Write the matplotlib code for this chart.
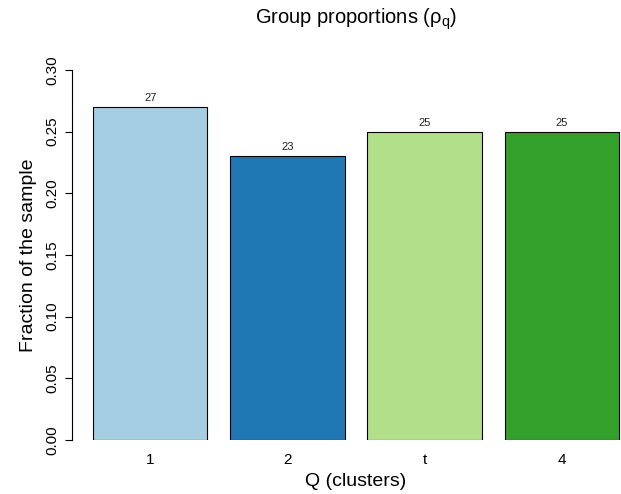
import matplotlib
matplotlib.use("Agg")
import matplotlib.pyplot as plt

plt.rcParams['font.family'] = ['Liberation Sans', 'DejaVu Sans']
plt.rcParams['mathtext.fontset'] = 'custom'
plt.rcParams['mathtext.rm'] = 'Liberation Sans'

categories = ["1", "2", "t", "4"]
proportions = [0.27, 0.23, 0.25, 0.25]
counts = [27, 23, 25, 25]
colors = ["#A6CEE3", "#1F78B4", "#B2DF8A", "#33A02C"]
yticks = [0.00, 0.05, 0.10, 0.15, 0.20, 0.25, 0.30]

W, H = 621, 494
fig = plt.figure(figsize=(W / 100, H / 100), dpi=100)
# axes in pixel coords: left 72, right 640, top 70, bottom 440
ax = fig.add_axes([72 / W, (H - 440) / H, (640 - 72) / W, 370 / H])

centers = [0.7 + 1.2 * i for i in range(len(categories))]
ax.bar(centers, proportions, width=1.0, color=colors, edgecolor="black", linewidth=0.8)
for x, p, c in zip(centers, proportions, counts):
    ax.annotate(str(c), (x, p), xytext=(0, 3), textcoords="offset points",
                ha="center", va="bottom", fontsize=8, color="#222222")

ax.set_xlim(0.016, 4.984)
ax.set_ylim(0, 0.30)
for s in ["top", "right", "bottom"]:
    ax.spines[s].set_visible(False)
ax.spines["left"].set_bounds(0, 0.30)
ax.set_yticks(yticks)
ax.set_yticklabels([f"{v:.2f}" for v in yticks], rotation=90, va="center", fontsize=11)
ax.set_xticks(centers)
ax.set_xticklabels(categories, fontsize=11)
ax.tick_params(axis="x", length=0, pad=9)
ax.tick_params(axis="y", length=5, width=0.8, pad=4)
ax.set_ylabel("Fraction of the sample", fontsize=14, labelpad=6)
ax.set_xlabel("Q (clusters)", fontsize=14, labelpad=5)

fig.text((72 + 640) / 2 / W, 1 - 19 / H, r"Group proportions (ρ$_\mathregular{q}$)", ha="center",
         va="center", fontsize=14.5)

fig.savefig("out.png", dpi=100)
